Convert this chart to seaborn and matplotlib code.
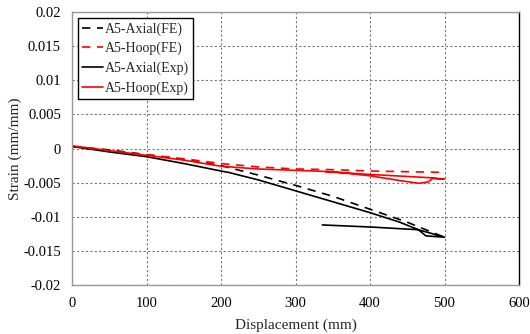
import matplotlib
matplotlib.use("Agg")
import matplotlib.pyplot as plt
import seaborn as sns
import pandas as pd

# FE axial
fe_axial_x = [0, 50, 100, 150, 200, 250, 300, 350, 400, 450, 500]
fe_axial_y = [0.0003, -0.0002, -0.0009, -0.0016, -0.0025, -0.0039, -0.0054, -0.0070, -0.0089, -0.0108, -0.0130]
# FE hoop
fe_hoop_x = [0, 50, 100, 150, 200, 250, 300, 350, 400, 450, 500]
fe_hoop_y = [0.0003, -0.0003, -0.0009, -0.0015, -0.0022, -0.0027, -0.0030, -0.0031, -0.0033, -0.0034, -0.0035]
# Exp axial (loading then unloading)
exp_axial_x = [0, 50, 100, 150, 200, 210, 250, 300, 350, 400, 440, 465, 475, 500, 465, 400, 336]
exp_axial_y = [0.0003, -0.0005, -0.0012, -0.0022, -0.0033, -0.0035, -0.0046, -0.0062, -0.0078, -0.0094, -0.0108, -0.0119, -0.0128, -0.0130, -0.0119, -0.0115, -0.0112]
# Exp hoop (loading then unloading)
exp_hoop_x = [0, 50, 100, 150, 200, 250, 300, 350, 400, 440, 466, 478, 484, 500, 484, 400, 340]
exp_hoop_y = [0.0004, -0.0003, -0.0010, -0.0017, -0.0026, -0.0030, -0.0032, -0.0034, -0.0040, -0.0047, -0.0051, -0.0049, -0.0044, -0.0045, -0.0043, -0.0038, -0.0034]

x_ticks = [0, 100, 200, 300, 400, 500, 600]
y_ticks = [-0.02, -0.015, -0.01, -0.005, 0, 0.005, 0.01, 0.015, 0.02]
y_tick_labels = ["-0.02", "-0.015", "-0.01", "-0.005", "0", "0.005", "0.01", "0.015", "0.02"]

sns.set_style("white")
plt.rcParams['font.family'] = ['Liberation Serif', 'DejaVu Serif']

fig = plt.figure(figsize=(5.3, 3.34), dpi=100)
ax = fig.add_axes([72/530, 1-285/334, (519-72)/530, (285-12)/334])

series = [
    ("A5-Axial(FE)", fe_axial_x, fe_axial_y, "black", (0, (5, 4))),
    ("A5-Hoop(FE)", fe_hoop_x, fe_hoop_y, "#ff0000", (0, (5, 4))),
    ("A5-Axial(Exp)", exp_axial_x, exp_axial_y, "black", "-"),
    ("A5-Hoop(Exp)", exp_hoop_x, exp_hoop_y, "#ff0000", "-"),
]
for name, xs, ys, c, ls in series:
    df = pd.DataFrame({"x": xs, "y": ys})
    sns.lineplot(data=df, x="x", y="y", sort=False, estimator=None, ax=ax,
                 color=c, linestyle=ls, linewidth=1.2, label=name)

ax.set_xlim(0, 600)
ax.set_ylim(-0.02, 0.02)
ax.set_xticks(x_ticks)
ax.set_xticklabels([str(t) for t in x_ticks])
ax.set_yticks(y_ticks)
ax.set_yticklabels(y_tick_labels)
ax.tick_params(length=0, labelsize=10.5, colors="black")
ax.tick_params(axis="y", pad=8)
ax.tick_params(axis="x", pad=8.5)
ax.grid(True, color="#777777", linestyle=(0, (2, 2)), linewidth=0.8)
ax.set_axisbelow(True)
for s in ["left", "bottom", "top"]:
    ax.spines[s].set_color("#999999")
    ax.spines[s].set_linewidth(1.0)
ax.spines["right"].set_color("black")
ax.spines["right"].set_linewidth(1.0)

ax.set_xlabel("Displacement (mm)", fontsize=11, labelpad=6)
ax.set_ylabel("Strain (mm/mm)", fontsize=11)
ax.yaxis.set_label_coords(-0.112, 0.5)

leg = ax.legend(loc="upper left", fontsize=10, frameon=True, fancybox=False,
                edgecolor="black", framealpha=1, borderpad=0.3, labelspacing=0.45,
                handlelength=1.5, handletextpad=0.15, borderaxespad=0.43)
leg.get_frame().set_linewidth(1.0)

fig.savefig("out.png", dpi=100)
